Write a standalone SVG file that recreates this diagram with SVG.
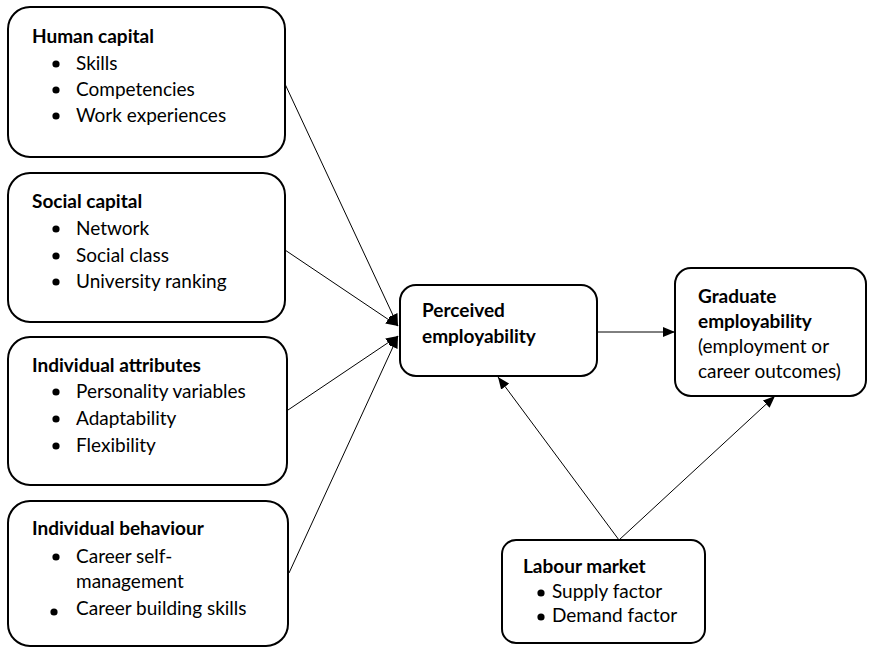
<svg xmlns="http://www.w3.org/2000/svg" width="870" height="648" viewBox="0 0 870 648">
  <style>
    .box { fill: #fff; stroke: #000; stroke-width: 2; }
    .t { font-family: Lato, "Liberation Sans", sans-serif; font-size: 19px; fill: #000; }
    .b { font-weight: bold; }
    .dot { fill: #000; }
    .edge { stroke: #000; stroke-width: 1; fill: none; marker-end: url(#head); }
  </style>
  <defs>
    <marker id="head" viewBox="0 0 12 10" refX="12" refY="5" markerWidth="12" markerHeight="10" markerUnits="userSpaceOnUse" orient="auto">
      <path d="M0,0 L12,5 L0,10 z" fill="#000"/>
    </marker>
  </defs>

  <rect width="870" height="648" fill="#fff"/>

  <g id="connectors">
    <line class="edge" x1="285" y1="84" x2="398" y2="326"/>
    <line class="edge" x1="285" y1="250" x2="398" y2="326"/>
    <line class="edge" x1="288" y1="410" x2="398" y2="336"/>
    <line class="edge" x1="289" y1="573" x2="398" y2="336"/>
    <line class="edge" x1="597" y1="332" x2="675" y2="332"/>
    <line class="edge" x1="619" y1="540" x2="498" y2="377"/>
    <line class="edge" x1="619" y1="540" x2="775" y2="396"/>
  </g>

  <g id="human-capital">
    <rect class="box" x="8" y="7" width="277" height="150" rx="22"/>
    <text class="t b" x="32" y="43">Human capital</text>
    <circle class="dot" cx="56" cy="64" r="3.6"/>
    <text class="t" x="76" y="70">Skills</text>
    <circle class="dot" cx="56" cy="90" r="3.6"/>
    <text class="t" x="76" y="96">Competencies</text>
    <circle class="dot" cx="56" cy="116" r="3.6"/>
    <text class="t" x="76" y="122">Work experiences</text>
  </g>

  <g id="social-capital">
    <rect class="box" x="8" y="173" width="277" height="149" rx="22"/>
    <text class="t b" x="32" y="208">Social capital</text>
    <circle class="dot" cx="56" cy="229" r="3.6"/>
    <text class="t" x="76" y="235">Network</text>
    <circle class="dot" cx="56" cy="256" r="3.6"/>
    <text class="t" x="76" y="262">Social class</text>
    <circle class="dot" cx="56" cy="282" r="3.6"/>
    <text class="t" x="76" y="288">University ranking</text>
  </g>

  <g id="individual-attributes">
    <rect class="box" x="8" y="337" width="279" height="148" rx="22"/>
    <text class="t b" x="32" y="372">Individual attributes</text>
    <circle class="dot" cx="56" cy="392" r="3.6"/>
    <text class="t" x="76" y="398">Personality variables</text>
    <circle class="dot" cx="56" cy="419" r="3.6"/>
    <text class="t" x="76" y="425">Adaptability</text>
    <circle class="dot" cx="56" cy="446" r="3.6"/>
    <text class="t" x="76" y="452">Flexibility</text>
  </g>

  <g id="individual-behaviour">
    <rect class="box" x="8" y="501" width="280" height="145" rx="22"/>
    <text class="t b" x="32" y="535">Individual behaviour</text>
    <circle class="dot" cx="56" cy="557" r="3.6"/>
    <text class="t" x="76" y="563">Career self-</text>
    <text class="t" x="76" y="588">management</text>
    <circle class="dot" cx="54" cy="612" r="3.6"/>
    <text class="t" x="76" y="615">Career building skills</text>
  </g>

  <g id="perceived-employability">
    <rect class="box" x="400" y="285" width="197" height="91" rx="16"/>
    <text class="t b" x="422" y="317">Perceived</text>
    <text class="t b" x="422" y="343">employability</text>
  </g>

  <g id="graduate-employability">
    <rect class="box" x="675" y="268" width="191" height="128" rx="16"/>
    <text class="t b" x="698" y="303">Graduate</text>
    <text class="t b" x="698" y="328">employability</text>
    <text class="t" x="698" y="353">(employment or</text>
    <text class="t" x="698" y="378">career outcomes)</text>
  </g>

  <g id="labour-market">
    <rect class="box" x="502" y="540" width="203" height="103" rx="14"/>
    <text class="t b" x="523" y="573">Labour market</text>
    <circle class="dot" cx="541" cy="593" r="3.6"/>
    <text class="t" x="552" y="598">Supply factor</text>
    <circle class="dot" cx="541" cy="617" r="3.6"/>
    <text class="t" x="552" y="622">Demand factor</text>
  </g>
</svg>
